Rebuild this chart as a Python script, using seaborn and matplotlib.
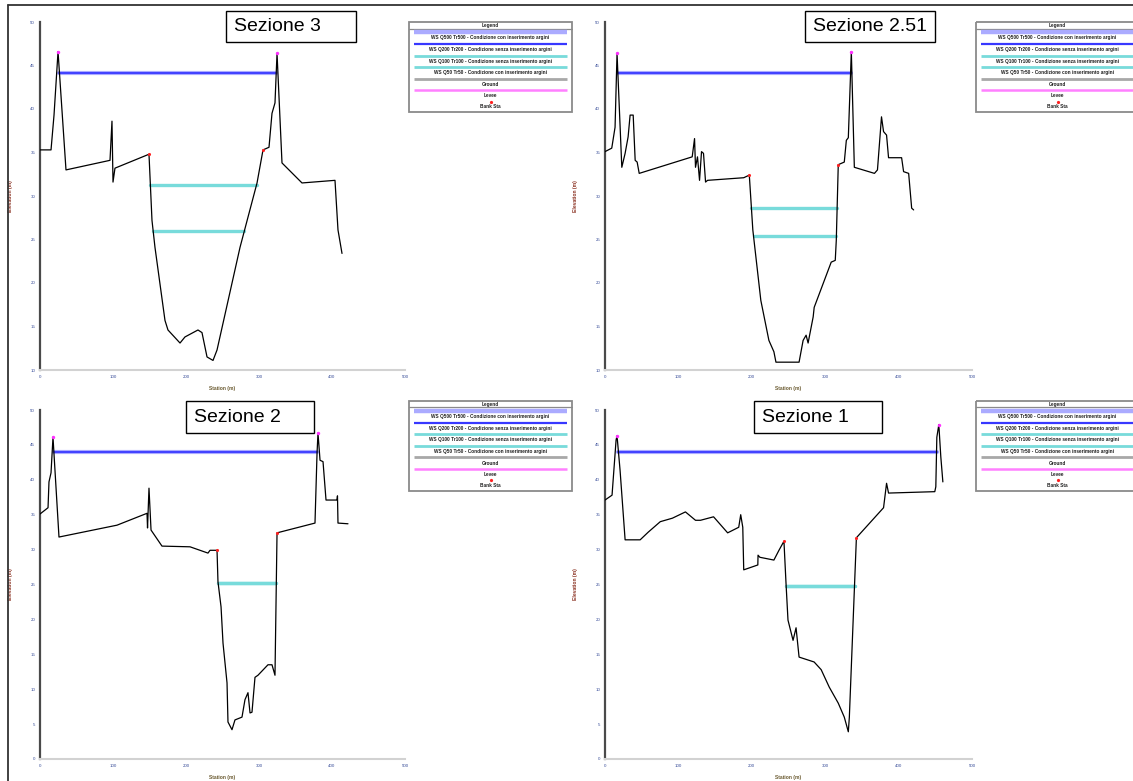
import numpy as np
import pandas as pd
import matplotlib
matplotlib.use("Agg")
import matplotlib.pyplot as plt
from matplotlib.lines import Line2D
from matplotlib.patches import Rectangle
import seaborn as sns

sns.set_theme(style="white")
plt.rcParams["font.family"] = ["Liberation Sans", "DejaVu Sans"]

W, H = 1133, 781

# ---- Sezione 3 ----
sez3_station = [0, 15.1, 19.2, 24.7, 35.6, 95.9, 98.6, 100.0, 102.7, 149.3, 153.4, 157.5,
                171.2, 175.3, 191.8, 198.6, 216.4, 221.9, 228.8, 237.0, 242.5, 274.0, 297.3,
                305.5, 313.7, 317.8, 321.9, 324.7, 331.5, 358.9, 404.1, 408.2, 413.7]
sez3_elev = [35.3, 35.3, 39.3, 46.6, 33.0, 34.1, 38.6, 31.6, 33.2, 34.8, 27.2, 24.1,
             15.7, 14.6, 13.1, 13.8, 14.6, 14.3, 11.5, 11.1, 12.3, 24.1, 31.5,
             35.3, 35.6, 39.5, 40.7, 46.4, 33.8, 31.5, 31.8, 26.1, 23.4]
sez3_levee = [24.7, 324.7]
sez3_bank = [149.3, 305.5]
sez3_ws = [44.1, 44.1, 31.3, 26.0]

# ---- Sezione 2.51 ----
sez251_station = [0, 9.2, 13.7, 16.4, 22.9, 27.4, 31.5, 34.2, 38.4, 41.1, 43.8, 46.6, 118.8,
                  122.0, 123.3, 126.0, 128.8, 131.5, 134.2, 137.0, 139.7, 189.0, 196.6, 201.4,
                  212.3, 223.3, 230.1, 232.9, 264.4, 269.9, 274.0, 276.7, 283.6, 285.0, 308.2,
                  313.7, 315.1, 317.8, 326.0, 328.8, 331.5, 335.6, 339.7, 367.1, 371.2, 376.7,
                  379.5, 383.6, 386.3, 404.1, 406.8, 413.7, 417.8, 420.5]
sez251_elev = [35.1, 35.5, 37.9, 46.4, 33.3, 34.9, 36.8, 39.3, 39.3, 34.1, 33.9, 32.6, 34.5,
               36.6, 33.3, 34.5, 31.8, 35.1, 34.9, 31.6, 31.8, 32.1, 32.4, 26.1,
               18.0, 13.4, 12.1, 10.9, 10.9, 13.4, 14.0, 13.1, 16.1, 17.2, 22.4,
               22.6, 24.9, 33.6, 33.9, 36.4, 36.7, 46.6, 33.3, 32.6, 33.0, 39.1,
               37.4, 37.0, 34.4, 34.4, 32.8, 32.6, 28.6, 28.4]
sez251_levee = [16.4, 335.6]
sez251_bank = [196.6, 317.8]
sez251_ws = [44.1, 44.1, 28.6, 25.4]

# ---- Sezione 2 ----
sez2_station = [0, 11.0, 12.3, 15.1, 17.8, 26.0, 105.5, 146.6, 147.3, 149.3, 152.1, 167.1,
                205.5, 230.1, 232.9, 242.5, 243.8, 248.0, 250.7, 256.2, 257.5, 263.0, 267.1,
                276.7, 280.8, 284.9, 287.7, 290.4, 294.5, 298.6, 312.3, 317.8, 321.9, 324.7,
                376.7, 379.5, 380.8, 383.6, 387.7, 391.8, 406.8, 407.5, 408.2, 421.9]
sez2_elev = [35.1, 36.0, 39.7, 41.0, 46.1, 31.8, 33.5, 35.2, 33.1, 38.8, 32.8, 30.5,
             30.4, 29.5, 29.9, 29.9, 25.4, 21.8, 16.6, 10.9, 5.3, 4.2, 5.6,
             6.0, 8.5, 9.5, 6.6, 6.7, 11.7, 12.0, 13.5, 13.5, 12.0, 32.4,
             33.8, 43.8, 46.7, 42.8, 42.6, 37.1, 37.1, 37.7, 33.8, 33.7]
sez2_levee = [17.8, 380.8]
sez2_bank = [242.5, 324.7]
sez2_ws = [44.0, 44.0, 25.2, 25.2]

# ---- Sezione 1 ----
sez1_station = [0, 9.6, 15.1, 16.4, 20.5, 27.4, 47.9, 58.9, 75.3, 91.8, 109.6, 123.3, 130.1,
                147.9, 167.1, 182.2, 184.9, 187.7, 189.0, 208.2, 208.5, 211.0, 230.1, 237.0,
                243.8, 246.6, 249.3, 256.2, 260.3, 264.4, 284.9, 294.5, 305.5, 317.8, 326.0,
                331.5, 332.9, 342.5, 379.5, 383.6, 386.3, 449.3, 450.7, 452.1, 454.8, 457.5, 460.3]
sez1_elev = [37.1, 37.8, 45.7, 46.3, 41.4, 31.4, 31.4, 32.5, 34.0, 34.5, 35.4, 34.2, 34.2,
             34.7, 32.4, 33.2, 35.0, 33.2, 27.1, 27.8, 29.2, 28.9, 28.5, 29.9,
             31.2, 25.2, 19.9, 17.0, 18.8, 14.6, 13.9, 12.8, 10.3, 8.0, 6.0,
             3.9, 6.0, 31.7, 36.0, 39.5, 38.1, 38.3, 39.0, 46.1, 47.9, 43.3, 39.7]
sez1_levee = [16.4, 454.8]
sez1_bank = [243.8, 342.5]
sez1_ws = [44.0, 44.0, 24.8, 24.8]

ws_labels = [
    "WS Q500 Tr500 - Condizione con inserimento argini",
    "WS Q200 Tr200 - Condizione senza inserimento argini",
    "WS Q100 Tr100 - Condizione senza inserimento argini",
    "WS Q50 Tr50 - Condizione con inserimento argini",
]
x_ticks = [0, 100, 200, 300, 400, 500]
y_ticks_top = [10, 15, 20, 25, 30, 35, 40, 45, 50]
y_ticks_bottom = [0, 5, 10, 15, 20, 25, 30, 35, 40, 45, 50]

WS_COLORS = ["#ababff", "#3838ff", "#78dbdb", "#78dbdb"]
WS_WIDTHS = [3.0, 1.3, 2.4, 2.4]


def fig_box(x0, y0, x1, y1):
    return [x0 / W, 1 - y1 / H, (x1 - x0) / W, (y1 - y0) / H]


def wet_extent(station, elev, level):
    st = np.asarray(station, float)
    el = np.asarray(elev, float)
    i0 = int(np.argmin(el))
    i = i0
    while i > 0 and el[i - 1] <= level:
        i -= 1
    if i == 0:
        left = st[0]
    else:
        f = (el[i - 1] - level) / (el[i - 1] - el[i])
        left = st[i - 1] + f * (st[i] - st[i - 1])
    j = i0
    while j < len(el) - 1 and el[j + 1] <= level:
        j += 1
    if j == len(el) - 1:
        right = st[-1]
    else:
        f = (level - el[j]) / (el[j + 1] - el[j])
        right = st[j] + f * (st[j + 1] - st[j])
    return left, right


def draw_section(ax, station, elev, levee, bank, ws, yticks):
    for level, color, lw in zip(ws, WS_COLORS, WS_WIDTHS):
        l, r = wet_extent(station, elev, level)
        sns.lineplot(x=[l, r], y=[level, level], color=color, lw=lw, ax=ax,
                     sort=False, estimator=None, zorder=2)
    ground = pd.DataFrame({"Station": station, "Elevation": elev})
    sns.lineplot(data=ground, x="Station", y="Elevation", sort=False, estimator=None,
                 color="black", lw=0.9, ax=ax, zorder=3)
    sns.scatterplot(x=levee, y=np.interp(levee, station, elev), color="#ff30ff",
                    s=6, linewidth=0, ax=ax, zorder=4)
    sns.scatterplot(x=bank, y=np.interp(bank, station, elev), color="#ff2020",
                    s=5, linewidth=0, ax=ax, zorder=4)

    ax.set_xlim(x_ticks[0], x_ticks[-1])
    ax.set_ylim(yticks[0], yticks[-1])
    ax.set_xticks(x_ticks)
    ax.set_xticks(np.arange(0, 501, 20), minor=True)
    ax.set_yticks(yticks)
    ax.set_yticks(np.arange(yticks[0], yticks[-1] + 0.1, 2.5), minor=True)
    ax.set_xticklabels([str(v) for v in x_ticks])
    ax.set_yticklabels([str(v) for v in yticks])
    for side in ("top", "right"):
        ax.spines[side].set_visible(False)
    ax.spines["left"].set_color("#4a4a4a")
    ax.spines["left"].set_linewidth(1.6)
    ax.spines["bottom"].set_color("#d2d2d2")
    ax.spines["bottom"].set_linewidth(1.5)
    ax.tick_params(axis="both", which="both", direction="inout", length=2.0,
                   width=1.3, color="#444444", labelsize=3.2, pad=2.5,
                   labelcolor="#3a4f9a", bottom=True, left=True)
    ax.set_xlabel("Station (m)", fontsize=3.6, color="#6a5a30", fontweight="bold")
    ax.set_ylabel("Elevation (m)", fontsize=3.6, color="#8a3020", fontweight="bold")
    ax.xaxis.set_label_coords(0.5, -16 / 348)
    ax.yaxis.set_label_coords(-27 / 365, 0.5)
    ax.set_facecolor("white")


def draw_legend(fig, x0, y0, labels):
    w, h = 165, 92
    lax = fig.add_axes(fig_box(x0, y0, x0 + w, y0 + h))
    lax.set_xlim(0, w)
    lax.set_ylim(h, 0)
    lax.axis("off")
    lax.add_patch(Rectangle((0.8, 0.8), w - 1.6, h - 1.6, fill=False,
                            edgecolor="#8a8a8a", lw=1.3))
    lax.plot([1, w - 1], [7.5, 7.5], color="#8a8a8a", lw=0.9)
    txt = dict(fontsize=3.4, ha="center", va="center", color="#202020", fontweight="bold")
    lax.text(w / 2, 4.2, "Legend", **txt)
    rows = [
        (11.0, dict(color=WS_COLORS[0], lw=3.2)),
        (23.0, dict(color=WS_COLORS[1], lw=1.6)),
        (34.5, dict(color=WS_COLORS[2], lw=2.0)),
        (46.0, dict(color=WS_COLORS[3], lw=2.0)),
        (57.5, dict(color="#a8a8a8", lw=2.0)),
        (69.0, dict(color="#ff80ff", lw=1.8)),
    ]
    for y, style in rows:
        lax.plot([6, w - 6], [y, y], solid_capstyle="butt", **style)
    lax.plot([w / 2], [80.5], marker="o", ms=1.3, color="#ff2020", lw=0)
    texts = list(labels) + ["Ground", "Levee", "Bank Sta"]
    ys = [17.0, 28.5, 40.0, 51.5, 63.5, 74.5, 86.0]
    for y, t in zip(ys, texts):
        lax.text(w / 2, y, t, **txt)


def draw_title(fig, x0, y0, x1, y1, text):
    fig.add_artist(Rectangle((x0 / W, 1 - y1 / H), (x1 - x0) / W, (y1 - y0) / H,
                             transform=fig.transFigure, fill=True, facecolor="white",
                             edgecolor="black", lw=1.0, zorder=10))
    fig.text((x0 + 8) / W, 1 - ((y0 + y1) / 2) / H, text, fontsize=14,
             ha="left", va="center", color="black", zorder=11)


fig = plt.figure(figsize=(W / 100, H / 100), dpi=100)
fig.patch.set_facecolor("white")

panels = [
    ((40, 22, 405, 370), (sez3_station, sez3_elev, sez3_levee, sez3_bank, sez3_ws), y_ticks_top),
    ((605, 22, 972, 370), (sez251_station, sez251_elev, sez251_levee, sez251_bank, sez251_ws), y_ticks_top),
    ((40, 410, 405, 759), (sez2_station, sez2_elev, sez2_levee, sez2_bank, sez2_ws), y_ticks_bottom),
    ((605, 410, 972, 759), (sez1_station, sez1_elev, sez1_levee, sez1_bank, sez1_ws), y_ticks_bottom),
]
for (x0, y0, x1, y1), data, yt in panels:
    ax = fig.add_axes(fig_box(x0, y0, x1, y1))
    draw_section(ax, *data, yt)

for x0, y0 in [(408, 21), (975, 21), (408, 400), (975, 400)]:
    draw_legend(fig, x0, y0, ws_labels)

draw_title(fig, 226, 11, 356, 42, "Sezione 3")
draw_title(fig, 805, 11, 935, 42, "Sezione 2.51")
draw_title(fig, 186, 401, 314, 433, "Sezione 2")
draw_title(fig, 754, 401, 882, 433, "Sezione 1")

# outer frame on the left and top edges
fig.add_artist(Line2D([7.5 / W, 7.5 / W], [0, 1 - 4.5 / H], transform=fig.transFigure,
                      color="#333333", lw=1.3))
fig.add_artist(Line2D([7.5 / W, 1], [1 - 4.5 / H, 1 - 4.5 / H], transform=fig.transFigure,
                      color="#333333", lw=1.3))

fig.savefig("out.png", dpi=100, facecolor="white")
